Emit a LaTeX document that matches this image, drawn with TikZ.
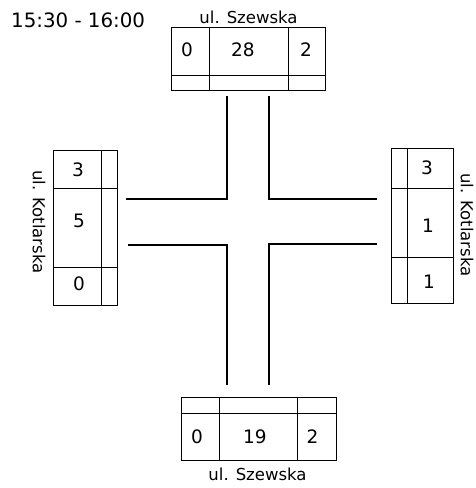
\documentclass[tikz,border=0pt]{standalone}
\usepackage{fontspec}
\setmainfont{DejaVu Sans}
\begin{document}
\begin{tikzpicture}[x=1pt,y=-1pt,
  cnt/.style={font=\fontsize{18.5}{19}\selectfont,inner sep=0pt},
  lbl/.style={font=\fontsize{16.5}{17}\selectfont,inner sep=0pt},
  road/.style={line width=2.2pt},
  box/.style={line width=1pt}]
\useasboundingbox (0,0) rectangle (475,488);

\node[cnt,font=\fontsize{19.8}{20}\selectfont,anchor=base west] (time) at (11,27) {15:30 - 16:00};

% top counter
\draw[box] (171,27) rectangle (325,90);
\draw[box] (209,27) -- (209,90);
\draw[box] (288,27) -- (288,90);
\draw[box] (171,75) -- (325,75);
\node[cnt] (tl) at (187,49.5) {0};
\node[cnt] (ts) at (243,49.5) {28};
\node[cnt] (tr) at (306,49.5) {2};
\node[lbl,anchor=base] (tname) at (248.5,23) {ul. Szewska};

% left counter
\draw[box] (53,150) rectangle (117,305);
\draw[box] (101,150) -- (101,305);
\draw[box] (53,188) -- (117,188);
\draw[box] (53,267) -- (117,267);
\node[cnt] (ll) at (78,170) {3};
\node[cnt] (ls) at (79,220.5) {5};
\node[cnt] (lr) at (79,284) {0};
\node[lbl,rotate=-90] (lname) at (39,222) {ul. Kotlarska};

% right counter
\draw[box] (391,148) rectangle (453,303);
\draw[box] (407,148) -- (407,303);
\draw[box] (391,188) -- (453,188);
\draw[box] (391,257) -- (453,257);
\node[cnt] (rl) at (427,167.5) {3};
\node[cnt] (rs) at (428,226) {1};
\node[cnt] (rr) at (429,281.5) {1};
\node[lbl,rotate=-90] (rname) at (467,225) {ul. Kotlarska};

% bottom counter
\draw[box] (181,397) rectangle (336,460);
\draw[box] (219,397) -- (219,460);
\draw[box] (297,397) -- (297,460);
\draw[box] (181,413) -- (336,413);
\node[cnt] (bl) at (197,437) {0};
\node[cnt] (bs) at (255,437) {19};
\node[cnt] (br) at (312.5,437) {2};
\node[lbl,anchor=base] (bname) at (257.5,480) {ul. Szewska};

% crossing
\draw[road] (227,96) -- (227,199) -- (126,199);
\draw[road] (269,96) -- (269,199) -- (377,199);
\draw[road] (128,245) -- (227,245) -- (227,385);
\draw[road] (377,244) -- (269,244) -- (269,385);

\end{tikzpicture}
\end{document}
